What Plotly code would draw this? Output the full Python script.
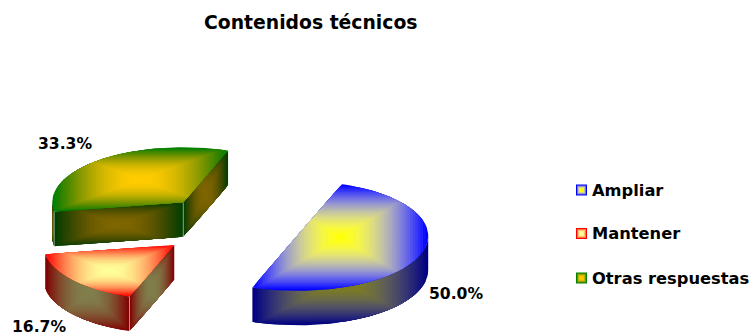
import math
import plotly.graph_objects as go

title = "Contenidos técnicos"
categories = ["Ampliar", "Mantener", "Otras respuestas"]
values = [50.0, 16.7, 33.3]
edge_colors = [(0, 0, 255), (255, 0, 0), (0, 128, 0)]
center_colors = [(255, 255, 0), (255, 255, 153), (255, 204, 0)]

W, H = 753, 335
PX, PY = 229.5, 225.5      # pie centre
A, B = 131, 55             # ellipse radii
DEPTH = 34.5
EXPLODE = 0.55
START = 20                 # degrees clockwise from 12 o'clock
LEVELS = 34
GAMMA = 2.0
FONT = "DejaVu Sans"


def pt(c, ang, dy=0):
    r = math.radians(ang)
    return (c[0] + A * math.sin(r), c[1] - B * math.cos(r) + dy)


def arc(c, s, e, dy=0, step=2.0):
    n = max(2, int(abs(e - s) / step) + 1)
    return [pt(c, s + (e - s) * i / (n - 1), dy) for i in range(n)]


def clip(poly, x0, x1, y0, y1):
    def run(p, inside, cross):
        out = []
        for i, cur in enumerate(p):
            prev = p[i - 1]
            if inside(cur):
                if not inside(prev):
                    out.append(cross(prev, cur))
                out.append(cur)
            elif inside(prev):
                out.append(cross(prev, cur))
        return out

    def cx(v):
        return lambda a, b: (v, a[1] + (b[1] - a[1]) * (v - a[0]) / (b[0] - a[0]))

    def cy(v):
        return lambda a, b: (a[0] + (b[0] - a[0]) * (v - a[1]) / (b[1] - a[1]), v)

    for inside, cross in [
        (lambda p: p[0] >= x0, cx(x0)),
        (lambda p: p[0] <= x1, cx(x1)),
        (lambda p: p[1] >= y0, cy(y0)),
        (lambda p: p[1] <= y1, cy(y1)),
    ]:
        if not poly:
            return poly
        poly = run(poly, inside, cross)
    return poly


def mix(c0, c1, r, k=1.0):
    # r: 1 at the outer edge of a face, 0 at its centre
    u = r ** 1.15
    f = 1 - u * u * (3 - 2 * u)
    return "rgb(%d,%d,%d)" % tuple(
        round((a ** GAMMA * (1 - f) + b ** GAMMA * f) ** (1 / GAMMA) * k) for a, b in zip(c0, c1))


fig = go.Figure()


def face(poly, edge, center, k=1.0):
    xs = [p[0] for p in poly]
    ys = [p[1] for p in poly]
    mx, my = (min(xs) + max(xs)) / 2, (min(ys) + max(ys)) / 2
    hw, hh = (max(xs) - min(xs)) / 2, (max(ys) - min(ys)) / 2
    for i in range(LEVELS):
        t = 1 - i / LEVELS
        q = clip(poly, mx - hw * t, mx + hw * t, my - hh * t, my + hh * t)
        if len(q) < 3:
            continue
        fig.add_trace(go.Scatter(
            x=[p[0] for p in q] + [q[0][0]], y=[p[1] for p in q] + [q[0][1]],
            mode="lines", fill="toself", fillcolor=mix(edge, center, t, k),
            line=dict(width=0), hoverinfo="skip", showlegend=False))


def seam(p):
    fig.add_trace(go.Scatter(
        x=[p[0], p[0]], y=[p[1], p[1] + DEPTH], mode="lines",
        line=dict(width=0.8, color="rgba(255,255,255,0.55)"),
        hoverinfo="skip", showlegend=False))


total = sum(values)
spans, ang = [], START
for v in values:
    spans.append((ang, ang + v / total * 360))
    ang = spans[-1][1]

centers = []
for s, e in spans:
    m = math.radians((s + e) / 2)
    centers.append((PX + EXPLODE * A * math.sin(m), PY - EXPLODE * B * math.cos(m)))

for idx in [2, 1, 0]:
    s, e = spans[idx]
    c = centers[idx]
    edge, center = edge_colors[idx], center_colors[idx]
    lo, hi = max(s, 90), min(e, 270)
    if hi > lo:
        face(arc(c, lo, hi) + arc(c, hi, lo, DEPTH), edge, center, 0.5)
    flats = []
    for a_, sign in [(s, -90), (e, 90)]:
        if math.cos(math.radians(a_ + sign)) < 0:
            p = pt(c, a_)
            face([c, p, (p[0], p[1] + DEPTH), (c[0], c[1] + DEPTH)], edge, center, 0.5)
            flats.append(a_)
    if len(flats) == 2:
        seam(c)
    for a_ in flats:
        if hi > lo and lo <= a_ <= hi:
            seam(pt(c, a_))
    face([c] + arc(c, s, e), edge, center)

# legend swatches
leg_y = [190, 233.5, 278]
for cat, y, edge, center in zip(categories, leg_y, edge_colors, center_colors):
    sizes = [11, 9, 7, 5, 3]
    for size in sizes:
        fig.add_trace(go.Scatter(
            x=[581.5], y=[y], mode="markers",
            marker=dict(symbol="square", size=size, color=mix(edge, center, (size - 3) / 8),
                        line=dict(width=0)),
            hoverinfo="skip", showlegend=False))

annotations = [
    dict(x=311, y=22, text="<b>%s</b>" % title, font=dict(size=18.8)),
    dict(x=455.5, y=294, text="<b>%.1f%%</b>" % values[0], font=dict(size=15.6)),
    dict(x=39, y=327, text="<b>%.1f%%</b>" % values[1], font=dict(size=15.6)),
    dict(x=64.5, y=144, text="<b>%.1f%%</b>" % values[2], font=dict(size=15.6)),
]
for cat, y in zip(categories, leg_y):
    annotations.append(dict(x=590, y=y, xanchor="left", text="<b>%s</b>" % cat, font=dict(size=16.3)))
for an in annotations:
    an.update(xref="x", yref="y", showarrow=False)
    an.setdefault("xanchor", "center")
    an["yanchor"] = "middle"
    an["font"].update(family=FONT, color="#000000")

fig.update_layout(
    width=W, height=H, margin=dict(l=0, r=0, t=0, b=0),
    paper_bgcolor="white", plot_bgcolor="white", showlegend=False,
    xaxis=dict(range=[0, W], visible=False, fixedrange=True),
    yaxis=dict(range=[H, 0], visible=False, fixedrange=True),
    annotations=annotations,
)
fig.write_html("out.html", config=dict(displayModeBar=False),
               post_script="document.body.style.margin='0';document.body.style.overflow='hidden';")
